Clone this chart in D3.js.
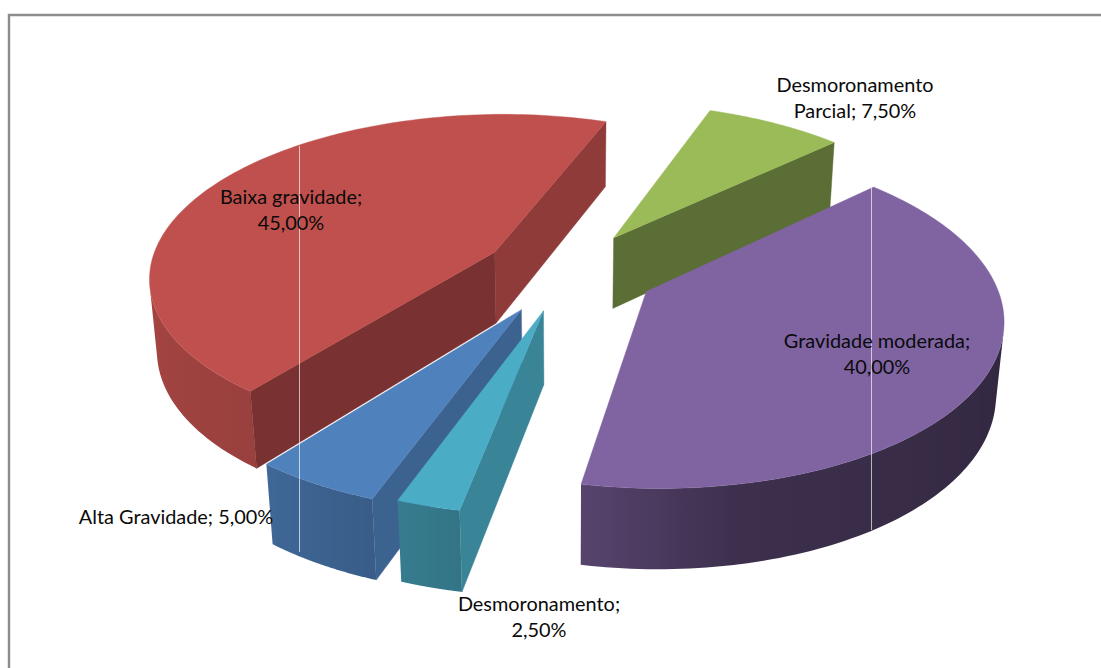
<!DOCTYPE html>
<html><head><meta charset="utf-8">
<script src="https://cdn.jsdelivr.net/npm/d3@7"></script>
<style>html,body{margin:0;padding:0;background:#fff}svg{display:block}</style>
</head><body>
<script>
// data, clockwise from the first slice
const categories = ["Desmoronamento Parcial","Gravidade moderada","Desmoronamento","Alta Gravidade","Baixa gravidade"];
const values = [7.5,40,2.5,5,45];
// styling per category
const colors = ["#9bbb59","#8064a2","#4bacc6","#4f81bd","#c0504d"];
const explosion = [87,89,85,91,84];
const startTone = [1,1,0.77,0.76,0.63];
const endTone = [0.59,1,1,1,0.74];
const labelLines = [["Desmoronamento","Parcial; 7,50%"],["Gravidade moderada;","40,00%"],["Desmoronamento;","2,50%"],["Alta Gravidade; 5,00%"],["Baixa gravidade;","45,00%"]];
const labelAt = [[855,92],[877,348],[539,611],[176,524],[291,204]];
const drawOrder = [0,4,1,3,2];
const toneAngles = [90,130,170,191,200,218,270];
const toneLevels = [0.38,0.42,0.48,0.68,0.72,0.8,0.88];

const W=1101,H=668,cx=567,cy=271,R=346,h=83,D=2150,elev=28*Math.PI/180,startDeg=20;
const sinE=Math.sin(elev),cosE=Math.cos(elev);
const rad=d=>d*Math.PI/180;

const svg=d3.select("body").append("svg").attr("width",W).attr("height",H);
svg.append("rect").attr("width",W).attr("height",H).attr("fill","#fff");
svg.append("path").attr("d",`M9 ${H}V15H${W}`).attr("fill","none").attr("stroke","#8c8c8c").attr("stroke-width",2.4);
const defs=svg.append("defs");

function project(u,v,z){
  const yy=v*sinE-z*cosE, d=-v*cosE-z*sinE, s=D/(D+d);
  return [cx+u*s,cy+yy*s];
}
const line=d3.line();
const area=p=>{let a=0;p.forEach((q,i)=>{const n=p[(i+1)%p.length];a+=q[0]*n[1]-n[0]*q[1];});return a/2;};

const pie=d3.pie().value(d=>d).sort(null).startAngle(rad(startDeg)).endAngle(rad(startDeg+360));
const arcs=pie(values);
const toneScale=d3.scaleLinear().domain(toneAngles).range(toneLevels).clamp(true);
const toneAt=t=>toneScale(((t*180/Math.PI)%360+360)%360);
const shade=(c,k)=>{const o=d3.rgb(c);return d3.rgb(o.r*k,o.g*k,o.b*k).formatHex();};

const layer=svg.append("g");
drawOrder.forEach(i=>{
  const a=arcs[i],mid=(a.startAngle+a.endAngle)/2,E=explosion[i];
  const ou=E*Math.sin(mid),ov=-E*Math.cos(mid);
  const P=(r,t,z)=>project(ou+r*Math.sin(t),ov-r*Math.cos(t),z);
  const g=layer.append("g");
  const ts=d3.range(0,121).map(k=>a.startAngle+(a.endAngle-a.startAngle)*k/120);
  // outer wall: only the bands that face the viewer, filled with one horizontal gradient
  const front=d3.pairs(ts).filter(([t1,t2])=>area([P(R,t1,0),P(R,t2,0),P(R,t2,-h),P(R,t1,-h)])<0);
  if(front.length){
    const vis=[front[0][0],...front.map(p=>p[1])];
    const tops=vis.map(t=>P(R,t,0)),bots=vis.map(t=>P(R,t,-h)).reverse();
    const xs=tops.map(p=>p[0]),x0=d3.min(xs),x1=d3.max(xs);
    const grad=defs.append("linearGradient").attr("id","wall"+i).attr("gradientUnits","userSpaceOnUse")
      .attr("x1",x0).attr("x2",x1).attr("y1",0).attr("y2",0);
    vis.map((t,k)=>({o:(xs[k]-x0)/(x1-x0),c:shade(colors[i],toneAt(t))})).sort((p,q)=>p.o-q.o)
      .forEach(s=>grad.append("stop").attr("offset",s.o).attr("stop-color",s.c));
    g.append("path").attr("d",line([...tops,...bots])+"Z").attr("fill",`url(#wall${i})`);
  }
  // cut faces
  [[a.startAngle,startTone[i],1],[a.endAngle,endTone[i],-1]].forEach(([t,k,dir])=>{
    const q=[P(0,t,0),P(R,t,0),P(R,t,-h),P(0,t,-h)];
    if(area(q)*dir>=0) return;
    const c=shade(colors[i],k);
    g.append("path").attr("d",line(q)+"Z").attr("fill",c).attr("stroke",c).attr("stroke-width",0.4);
  });
  // top
  const top=[P(0,mid,0),...ts.map(t=>P(R,t,0))];
  g.append("path").attr("d",line(top)+"Z").attr("fill",colors[i]).attr("stroke",colors[i]).attr("stroke-width",0.4);
});

// thin light seams present in the picture
[[299,146,552],[871,187,530]].forEach(([x,y1,y2])=>{
  svg.append("line").attr("x1",x+.5).attr("x2",x+.5).attr("y1",y1).attr("y2",y2).attr("stroke","#fff").attr("stroke-opacity",0.65).attr("stroke-width",1);
});

// labels
categories.forEach((name,i)=>{
  const t=svg.append("text").attr("text-anchor","middle").attr("font-family","Lato, 'Open Sans', sans-serif").attr("font-size",19.9).attr("fill","#0a0a0a");
  labelLines[i].forEach((s,j)=>t.append("tspan").attr("x",labelAt[i][0]).attr("y",labelAt[i][1]+j*26).text(s));
});
</script>
</body></html>
